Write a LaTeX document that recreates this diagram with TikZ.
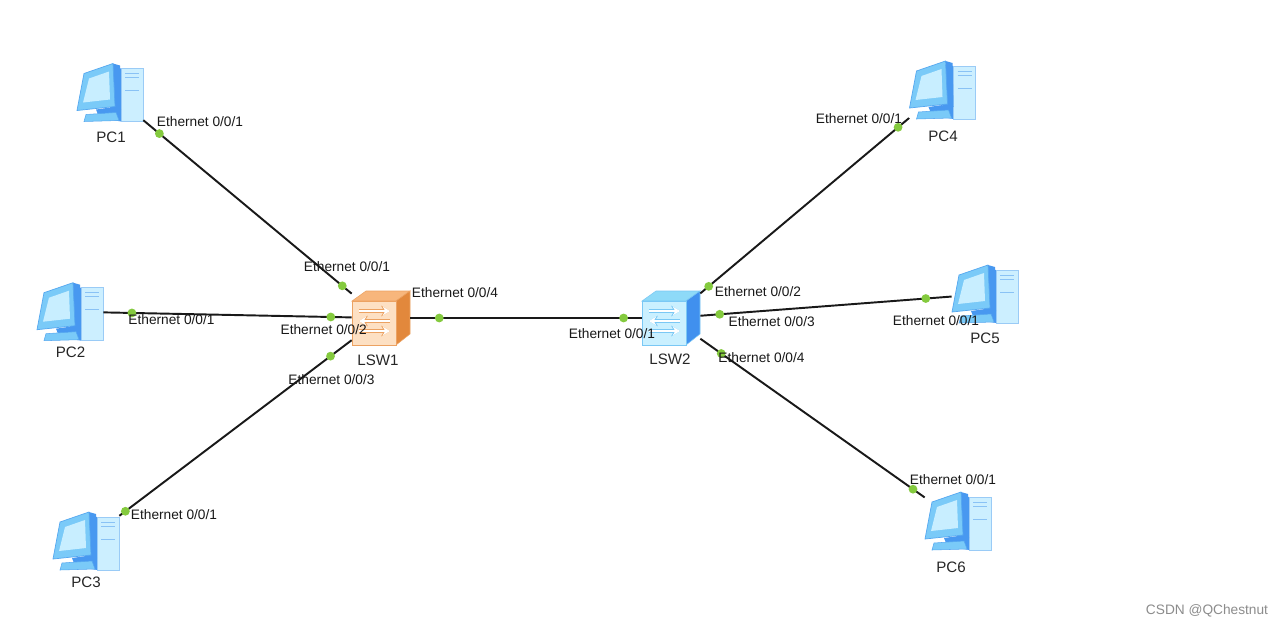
\documentclass[tikz,border=0pt]{standalone}
\usepackage{fontspec}
\setmainfont{Liberation Sans}
\usepackage{xcolor}
\usepackage{tikz}
\usetikzlibrary{positioning,arrows.meta}
\definecolor{portgreen}{RGB}{132,202,62}
\definecolor{pcedge}{RGB}{86,168,240}
\definecolor{pcbody}{RGB}{122,202,248}
\definecolor{pcscreen}{RGB}{200,238,255}
\definecolor{pcside}{RGB}{72,152,240}
\definecolor{pctower}{RGB}{204,239,255}
\definecolor{swAfront}{RGB}{253,224,195}
\definecolor{swAtop}{RGB}{247,182,124}
\definecolor{swAside}{RGB}{226,136,60}
\definecolor{swAedge}{RGB}{236,162,98}
\definecolor{swBfront}{RGB}{202,240,255}
\definecolor{swBtop}{RGB}{142,218,248}
\definecolor{swBside}{RGB}{64,144,238}
\definecolor{swBedge}{RGB}{122,200,245}

\begin{document}
\begin{tikzpicture}[x=0.02cm, y=-0.02cm,
    device/.style={rectangle, inner sep=0pt, minimum width=1.32cm, minimum height=1.16cm},
    switchdev/.style={rectangle, inner sep=0pt, minimum width=1.16cm, minimum height=1.08cm},
    link/.style={draw=black!90, line width=1.1pt},
    port/.style={circle, fill=portgreen, inner sep=0pt, minimum size=5pt},
    iflabel/.style={font=\fontsize{7.8}{9}\selectfont, inner sep=0pt, text=black!90},
    devname/.style={font=\fontsize{8.6}{10}\selectfont, inner sep=0pt, text=black!85},
    pics/pcicon/.style={code={
        % tower
        \fill[pcside] (0,-26) -- (11,-24) -- (11,29) -- (0,27) -- cycle;
        \filldraw[fill=pctower, draw=pcedge!60, line width=0.3pt] (11,-24) rectangle (33,29);
        \draw[pcedge!70, line width=0.4pt] (15,-19) -- (29,-19) (15,-15) -- (29,-15) (15,-2) -- (29,-2);
        % monitor
        \fill[pcside] (3,-29) -- (10,-27) -- (11,17) -- (5,14) -- cycle;
        \filldraw[fill=pcbody, draw=pcedge, line width=0.4pt] (-26,-19) -- (3,-29) -- (5,14) -- (-33,18) -- cycle;
        \fill[pcscreen] (-21,-14) -- (-1,-21) -- (0,7) -- (-27,10) -- cycle;
        \fill[pcside] (-14,17) -- (0,15) -- (2,21) -- (-12,22) -- cycle;
        \filldraw[fill=pcbody, draw=pcedge, line width=0.3pt] (-24,22) -- (6,20) -- (9,28) -- (-26,29) -- cycle;
    }},
    pics/swicon/.style n args={4}{code={
        \filldraw[fill=#2, draw=#4, line width=0.3pt] (-29,-17) -- (15,-17) -- (29,-27) -- (-15,-27) -- cycle;
        \filldraw[fill=#3, draw=#4, line width=0.3pt] (15,-17) -- (29,-27) -- (29,16) -- (15,27) -- cycle;
        \filldraw[fill=#1, draw=#4, line width=0.3pt] (-29,-17) rectangle (15,27);
        \foreach \yy/\xa/\xb in {-7/-22/9, 3/9/-22, 13/-22/9} {
            \draw[#4, line width=2.2pt, -{Stealth[length=5pt,width=6pt]}] (\xa,\yy) -- (\xb,\yy);
            \draw[white, line width=1.2pt, -{Stealth[length=4pt,width=4.8pt]}] (\xa,\yy) -- (\xb,\yy);
        }
    }}
]
    \fill[white] (0,0) rectangle (1284,629);
    \useasboundingbox (0,0) rectangle (1284,629);

    % devices
    \node[device] (pc1) at (110,92.5) {};
    \node[device] (pc2) at (70,311.7) {};
    \node[device] (pc3) at (86,541) {};
    \node[device] (pc4) at (942.5,90) {};
    \node[device] (pc5) at (985,294) {};
    \node[device] (pc6) at (958,521) {};
    \node[switchdev] (lsw1) at (381,318) {};
    \node[switchdev] (lsw2) at (671,318) {};

    \foreach \d in {pc1,pc2,pc3,pc4,pc5,pc6} {
        \pic at (\d.center) {pcicon};
    }
    \pic at (lsw1.center) {swicon={swAfront}{swAtop}{swAside}{swAedge}};
    \pic at (lsw2.center) {swicon={swBfront}{swBtop}{swBside}{swBedge}};

    % links
    \draw[link] (pc1) -- (lsw1) node[port, pos=.077] (pc1p) {} node[port, pos=.955] (lsw1p1) {};
    \draw[link] (pc2) -- (lsw1) node[port, pos=.115] (pc2p) {} node[port, pos=.916] (lsw1p2) {};
    \draw[link] (pc3) -- (lsw1) node[port, pos=.026] (pc3p) {} node[port, pos=.909] (lsw1p3) {};
    \draw[link] (lsw1) -- (lsw2) node[port, pos=.125] (lsw1p4) {} node[port, pos=.922] (lsw2p1) {};
    \draw[link] (lsw2) -- (pc4) node[port, pos=.04] (lsw2p2) {} node[port, pos=.947] (pc4p) {};
    \draw[link] (lsw2) -- (pc5) node[port, pos=.077] (lsw2p3) {} node[port, pos=.897] (pc5p) {};
    \draw[link] (lsw2) -- (pc6) node[port, pos=.093] (lsw2p4) {} node[port, pos=.948] (pc6p) {};

    % interface labels
    \node[iflabel] (pc1if) at (200,121.7) {Ethernet 0/0/1};
    \node[iflabel] (pc2if) at (171.5,320) {Ethernet 0/0/1};
    \node[iflabel] (pc3if) at (174,515) {Ethernet 0/0/1};
    \node[iflabel] (lsw1if1) at (347,266.7) {Ethernet 0/0/1};
    \node[iflabel] (lsw1if2) at (323.7,329.3) {Ethernet 0/0/2};
    \node[iflabel] (lsw1if3) at (331.5,380) {Ethernet 0/0/3};
    \node[iflabel] (lsw1if4) at (455,293) {Ethernet 0/0/4};
    \node[iflabel] (lsw2if1) at (612,333.3) {Ethernet 0/0/1};
    \node[iflabel] (lsw2if2) at (758,291.7) {Ethernet 0/0/2};
    \node[iflabel] (lsw2if3) at (771.7,321.7) {Ethernet 0/0/3};
    \node[iflabel] (lsw2if4) at (761.5,357.3) {Ethernet 0/0/4};
    \node[iflabel] (pc4if) at (859,118.3) {Ethernet 0/0/1};
    \node[iflabel] (pc5if) at (936,321) {Ethernet 0/0/1};
    \node[iflabel] (pc6if) at (953,479.3) {Ethernet 0/0/1};

    % device names
    \node[devname] (pc1name) at (111,137) {PC1};
    \node[devname] (pc2name) at (70.5,352.7) {PC2};
    \node[devname] (pc3name) at (86,582.7) {PC3};
    \node[devname] (pc4name) at (943,136) {PC4};
    \node[devname] (pc5name) at (985,338.3) {PC5};
    \node[devname] (pc6name) at (951,567.3) {PC6};
    \node[devname] (lsw1name) at (378,360) {LSW1};
    \node[devname] (lsw2name) at (670,359.3) {LSW2};

    \node[iflabel, text=black!45] (mark) at (1207,611) {CSDN @QChestnut};
\end{tikzpicture}
\end{document}
